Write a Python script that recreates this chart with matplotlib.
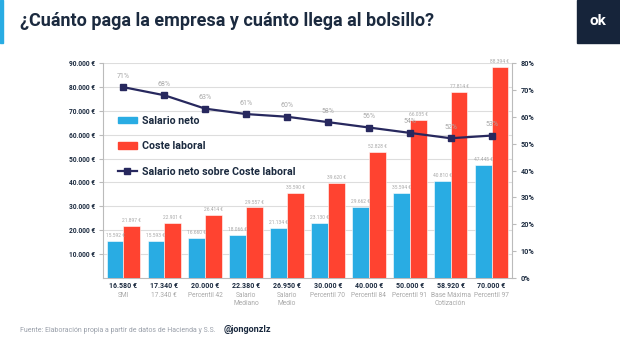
import numpy as np
import matplotlib.pyplot as plt
from matplotlib.patches import Rectangle
from matplotlib.transforms import blended_transform_factory
from matplotlib.lines import Line2D
from matplotlib.patches import Patch

plt.rcParams['font.family'] = ['Roboto', 'DejaVu Sans']

# Datos
salarios = ['16.580 €', '17.340 €', '20.000 €', '22.380 €', '26.950 €',
            '30.000 €', '40.000 €', '50.000 €', '58.920 €', '70.000 €']
nombres = ['SMI', '17.340 €', 'Percentil 42', 'Salario\nMediano', 'Salario\nMedio',
           'Percentil 70', 'Percentil 84', 'Percentil 91', 'Base Máxima\nCotización',
           'Percentil 97']
neto = [15592, 15593, 16660, 18066, 21134, 23130, 29662, 35594, 40810, 47445]
coste = [21897, 22901, 26414, 29557, 35590, 39620, 52828, 66035, 77814, 88394]
pct = [71, 68, 63, 61, 60, 58, 56, 54, 52, 53]

AZUL = '#29ACE3'
ROJO = '#FF4330'
NAVY = '#27285E'
OSCURO = '#1B2A3F'
GRIS = '#A8A8A8'

def euros(v):
    return f'{v:,}'.replace(',', '.') + ' €'

fig = plt.figure(figsize=(6.2, 3.49), dpi=100)
fig.patch.set_facecolor('white')

# Cabecera
fig.patches.append(Rectangle((0, 1 - 43/349), 3/620, 43/349, transform=fig.transFigure,
                             color=AZUL, zorder=5))
fig.patches.append(Rectangle((577/620, 1 - 43/349), 43/620, 43/349, transform=fig.transFigure,
                             color='#16243A', zorder=5))
fig.text(20/620, 1 - 21/349, '¿Cuánto paga la empresa y cuánto llega al bolsillo?',
         fontsize=13, fontweight='bold', color=OSCURO, va='center', ha='left')
fig.text(598/620, 1 - 21/349, 'ok', fontsize=11, fontweight='bold', color='white',
         va='center', ha='center', zorder=6)

ax = fig.add_axes([103/620, 1 - 278/349, 409/620, 215/349])
x = np.arange(len(neto))
w = 0.41
ax.bar(x - w/2, neto, w, color=AZUL, edgecolor='white', linewidth=0.4, zorder=3)
ax.bar(x + w/2, coste, w, color=ROJO, edgecolor='white', linewidth=0.4, zorder=3)
for xi, v in zip(x, neto):
    ax.text(xi - w/2, v + 1200, euros(v), ha='center', va='bottom', fontsize=3.5,
            color=GRIS, zorder=4)
for xi, v in zip(x, coste):
    ax.text(xi + w/2, v + 1200, euros(v), ha='center', va='bottom', fontsize=3.5,
            color=GRIS, zorder=4)

ax.set_xlim(-0.5, len(neto) - 0.5)
ax.set_ylim(0, 90000)
ax.set_yticks(np.arange(10000, 90001, 10000))
ax.set_yticklabels([euros(v) for v in range(10000, 90001, 10000)], fontsize=4.8,
                   fontweight='bold', color=OSCURO)
ax.grid(axis='y', color='#DDDDDD', linewidth=0.8, zorder=0)
ax.set_axisbelow(True)
for s in ['top', 'right']:
    ax.spines[s].set_visible(False)
ax.spines['left'].set_color('#BBBBBB')
ax.spines['bottom'].set_color('#BBBBBB')
ax.tick_params(axis='y', length=3, color='#BBBBBB', pad=3)
ax.tick_params(axis='x', length=0, pad=3)
ax.set_xticks(x)
ax.set_xticklabels(salarios, fontsize=5, fontweight='bold', color=OSCURO)

trans = blended_transform_factory(ax.transData, ax.transAxes)
for xi, n in zip(x, nombres):
    ax.text(xi, -0.065, n, transform=trans, ha='center', va='top', fontsize=4.8,
            color=GRIS, linespacing=1.3)

# Eje derecho: porcentaje
ax2 = ax.twinx()
ax2.plot(x, pct, color=NAVY, linewidth=1.6, marker='s', markersize=5, zorder=5)
for xi, p in zip(x, pct):
    ax2.text(xi, p + 2.8, f'{p}%', ha='center', va='bottom', fontsize=5, color=GRIS)
ax2.set_ylim(0, 80)
ax2.set_yticks(np.arange(0, 81, 10))
ax2.set_yticklabels([f'{v}%' for v in range(0, 81, 10)], fontsize=5.2,
                    fontweight='bold', color=OSCURO)
for s in ['top', 'left', 'bottom']:
    ax2.spines[s].set_visible(False)
ax2.spines['right'].set_color('#BBBBBB')
ax2.tick_params(axis='y', length=3, color='#BBBBBB', pad=3)

handles = [Patch(color=AZUL), Patch(color=ROJO),
           Line2D([], [], color=NAVY, linewidth=1.6, marker='s', markersize=5)]
leg = ax2.legend(handles, ['Salario neto', 'Coste laboral', 'Salario neto sobre Coste laboral'],
                 loc='upper left', bbox_to_anchor=(0.025, 0.775), frameon=False,
                 fontsize=7.7, labelspacing=1.45, handlelength=1.8, handleheight=0.55,
                 handletextpad=0.5, borderaxespad=0)
for t in leg.get_texts():
    t.set_color(OSCURO)
    t.set_fontweight('bold')

# Pie
fig.text(20/620, 1 - 330/349, 'Fuente: Elaboración propia a partir de datos de Hacienda y S.S.',
         fontsize=5, color='#9AA0AA', va='center', ha='left')
fig.text(224/620, 1 - 330/349, '@jongonzlz', fontsize=6.5, fontweight='bold',
         color=OSCURO, va='center', ha='left')

fig.savefig('out.png', dpi=100, facecolor='white')
